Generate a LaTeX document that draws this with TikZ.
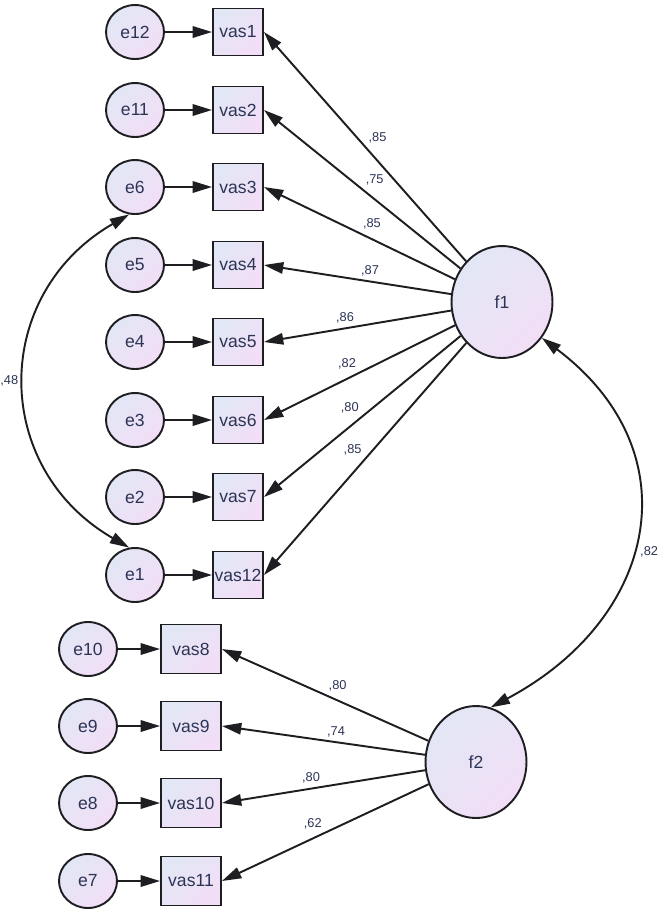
\documentclass[tikz,border=0pt]{standalone}
\usepackage{fontspec}
\setmainfont{Liberation Sans}
\usetikzlibrary{
  arrows.meta,
  shapes.geometric
}
\definecolor{ink}{RGB}{44,52,86}
\definecolor{lavtop}{RGB}{226,231,245}
\definecolor{lavbot}{RGB}{242,222,246}
\definecolor{rim}{RGB}{30,30,34}

\tikzset{
  errvar/.style={ellipse, draw=rim, line width=1.1pt, top color=lavtop, bottom color=lavbot,
    shading angle=45, minimum width=1.16cm, minimum height=1.08cm, inner sep=0pt,
    text=ink, font=\fontsize{10}{12}\selectfont},
  obsvar/.style={rectangle, draw=rim, line width=1.1pt, top color=lavtop, bottom color=lavbot,
    shading angle=45, minimum width=1cm, minimum height=0.94cm, inner sep=0.5pt,
    text=ink, font=\fontsize{10}{12}\selectfont},
  latvar/.style={ellipse, draw=rim, line width=1.1pt, top color=lavtop, bottom color=lavbot,
    shading angle=45, minimum width=2.02cm, minimum height=2.24cm, inner sep=0pt,
    text=ink, font=\fontsize{10}{12}\selectfont},
  regpath/.style={draw=rim, line width=1.1pt, -{Triangle[length=11pt,width=6.5pt]}},
  covpath/.style={draw=rim, line width=1.1pt, {Triangle[length=11pt,width=6.5pt]}-{Triangle[length=11pt,width=6.5pt]}},
  coef/.style={text=ink, font=\fontsize{7.3}{8}\selectfont, inner sep=1.5pt}
}

\begin{document}
\begin{tikzpicture}[x=0.02cm, y=-0.02cm]
  \useasboundingbox (0,0) rectangle (666,914);

  % latent factors
  \node[latvar] (f1) at (502,302) {f1};
  \node[latvar] (f2) at (476,762) {f2};

  % first factor: errors and indicators
  \node[errvar] (e12) at (135,32) {e12};
  \node[errvar] (e11) at (135,110) {e11};
  \node[errvar] (e6) at (135,187) {e6};
  \node[errvar] (e5) at (135,265) {e5};
  \node[errvar] (e4) at (135,342) {e4};
  \node[errvar] (e3) at (135,420) {e3};
  \node[errvar] (e2) at (135,497) {e2};
  \node[errvar] (e1) at (135,575) {e1};

  \node[obsvar] (vas1) at (238,32) {vas1};
  \node[obsvar] (vas2) at (238,110) {vas2};
  \node[obsvar] (vas3) at (238,187) {vas3};
  \node[obsvar] (vas4) at (238,265) {vas4};
  \node[obsvar] (vas5) at (238,342) {vas5};
  \node[obsvar] (vas6) at (238,420) {vas6};
  \node[obsvar] (vas7) at (238,497) {vas7};
  \node[obsvar] (vas12) at (238,575) {vas12};

  % second factor: errors and indicators
  \node[errvar] (e10) at (88,649) {e10};
  \node[errvar] (e9) at (88,726) {e9};
  \node[errvar] (e8) at (88,803) {e8};
  \node[errvar] (e7) at (88,881) {e7};

  \node[obsvar, minimum width=1.2cm, minimum height=0.98cm] (vas8) at (191,649) {vas8};
  \node[obsvar, minimum width=1.2cm, minimum height=0.98cm] (vas9) at (191,726) {vas9};
  \node[obsvar, minimum width=1.2cm, minimum height=0.98cm] (vas10) at (191,803) {vas10};
  \node[obsvar, minimum width=1.2cm, minimum height=0.98cm] (vas11) at (191,881) {vas11};

  % error terms
  \draw[regpath] (e12) -- (vas1);
  \draw[regpath] (e11) -- (vas2);
  \draw[regpath] (e6) -- (vas3);
  \draw[regpath] (e5) -- (vas4);
  \draw[regpath] (e4) -- (vas5);
  \draw[regpath] (e3) -- (vas6);
  \draw[regpath] (e2) -- (vas7);
  \draw[regpath] (e1) -- (vas12);
  \draw[regpath] (e10) -- (vas8);
  \draw[regpath] (e9) -- (vas9);
  \draw[regpath] (e8) -- (vas10);
  \draw[regpath] (e7) -- (vas11);

  % loadings
  \draw[regpath] (f1) -- (vas1.east) node[coef, midway, above right] {,85};
  \draw[regpath] (f1) -- (vas2.east) node[coef, midway, above right] {,75};
  \draw[regpath] (f1) -- (vas3.east) node[coef, midway, above right] {,85};
  \draw[regpath] (f1) -- (vas4.east) node[coef, midway, above right] {,87};
  \draw[regpath] (f1) -- (vas5.east) node[coef, midway, above left] {,86};
  \draw[regpath] (f1) -- (vas6.east) node[coef, midway, above left] {,82};
  \draw[regpath] (f1) -- (vas7.east) node[coef, midway, above left] {,80};
  \draw[regpath] (f1) -- (vas12.east) node[coef, midway, above left] {,85};

  \draw[regpath] (f2) -- (vas8.east) node[coef, midway, above right] {,80};
  \draw[regpath] (f2) -- (vas9.east) node[coef, midway, above right] {,74};
  \draw[regpath] (f2) -- (vas10.east) node[coef, midway, above left] {,80};
  \draw[regpath] (f2) -- (vas11.east) node[coef, midway, above left] {,62};

  % covariances
  \draw[covpath] (e6.258) to[out=210, in=150, looseness=1.23]
    node[coef, left=2pt] {,48} (e1.102);
  \draw[covpath] (f1.-42) to[out=-37, in=28, looseness=1.3]
    node[coef, right=3pt, pos=0.55] {,82} (f2.75);
\end{tikzpicture}
\end{document}
